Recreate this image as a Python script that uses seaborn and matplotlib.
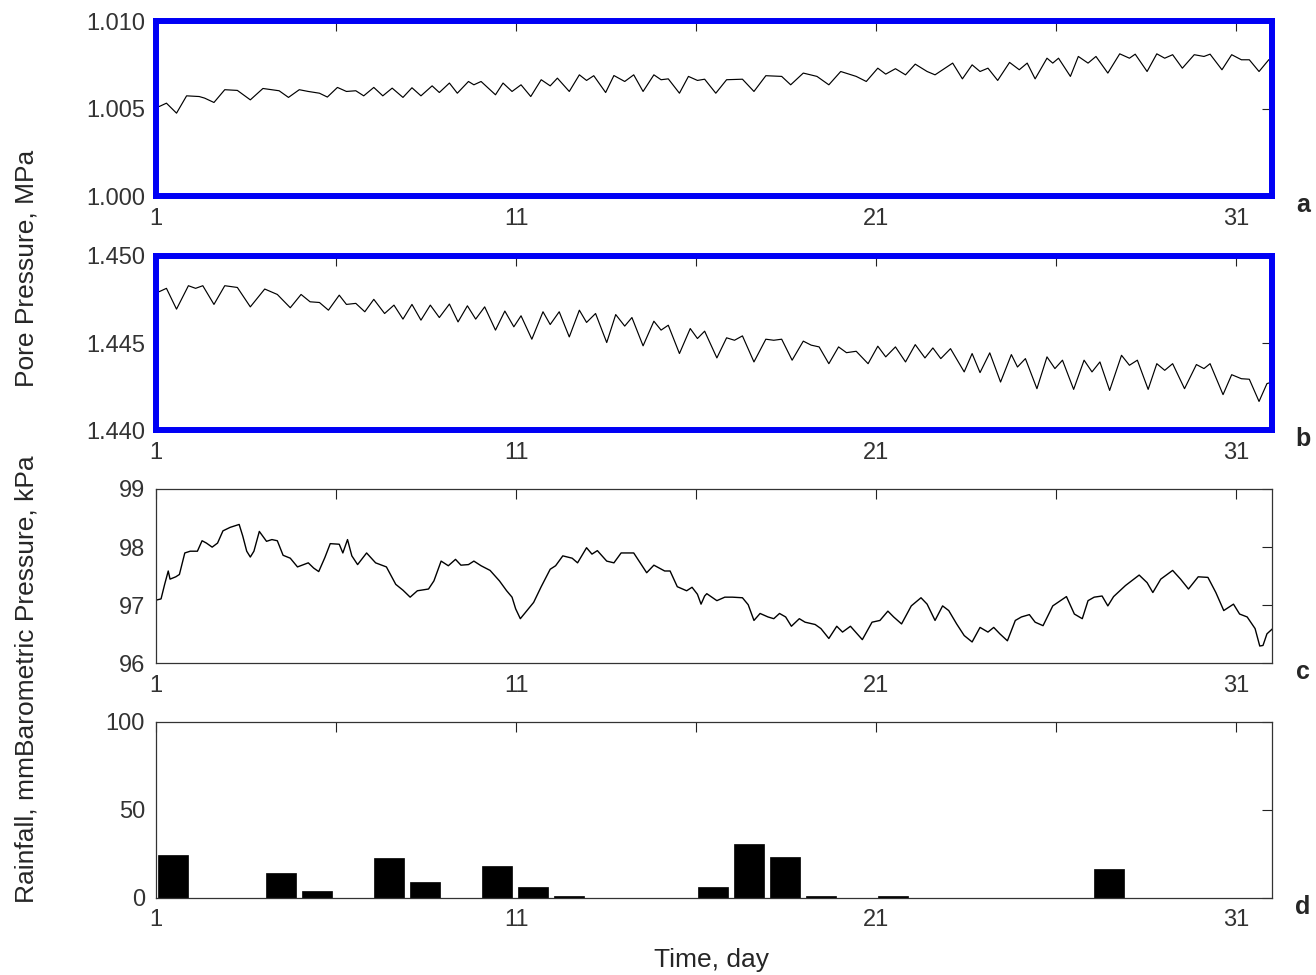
# Pore pressure (two gauges), barometric pressure and daily rainfall over one month
import numpy as np
import seaborn as sns
import matplotlib.pyplot as plt

sns.set_style("white")
plt.rcParams['font.family'] = ['Liberation Sans', 'DejaVu Sans']

# ---- data --------------------------------------------------------------
# a: pore pressure, gauge 1 (MPa)
a_day = [1.09, 1.29, 1.57, 1.85, 2.20, 2.35, 2.61, 2.91, 3.26, 3.62, 3.97, 4.42,
         4.68, 4.98, 5.23, 5.54, 5.76, 6.04, 6.29, 6.55, 6.77, 7.05, 7.30, 7.56,
         7.86, 8.11, 8.36, 8.67, 8.87, 9.15, 9.37, 9.68, 9.83, 10.03, 10.43, 10.64,
         10.89, 11.14, 11.41, 11.70, 11.95, 12.15, 12.48, 12.76, 12.96, 13.16, 13.49,
         13.72, 14.02, 14.27, 14.53, 14.83, 15.03, 15.23, 15.54, 15.79, 16.04, 16.24,
         16.55, 16.85, 17.29, 17.61, 17.94, 18.38, 18.63, 18.98, 19.36, 19.69, 20.02,
         20.45, 20.73, 21.05, 21.27, 21.54, 21.82, 22.09, 22.42, 22.64, 23.13, 23.40,
         23.67, 23.89, 24.11, 24.38, 24.71, 24.98, 25.20, 25.42, 25.75, 25.91, 26.07,
         26.40, 26.62, 26.89, 27.11, 27.44, 27.77, 28.04, 28.20, 28.53, 28.80, 29.02,
         29.24, 29.51, 29.84, 30.11, 30.28, 30.61, 30.88, 31.15, 31.37, 31.64, 31.91,
         32.00]
a_val = [1.00514, 1.00533, 1.00476, 1.00575, 1.00571, 1.00562, 1.00537, 1.00610,
         1.00606, 1.00552, 1.00617, 1.00604, 1.00566, 1.00610, 1.00600, 1.00590,
         1.00568, 1.00623, 1.00600, 1.00604, 1.00575, 1.00623, 1.00575, 1.00619,
         1.00566, 1.00621, 1.00575, 1.00632, 1.00594, 1.00648, 1.00590, 1.00657,
         1.00638, 1.00657, 1.00581, 1.00648, 1.00600, 1.00638, 1.00571, 1.00667,
         1.00632, 1.00676, 1.00600, 1.00695, 1.00663, 1.00690, 1.00594, 1.00691,
         1.00657, 1.00695, 1.00600, 1.00695, 1.00667, 1.00672, 1.00590, 1.00686,
         1.00663, 1.00670, 1.00590, 1.00667, 1.00670, 1.00600, 1.00690, 1.00686,
         1.00638, 1.00705, 1.00686, 1.00638, 1.00714, 1.00686, 1.00657, 1.00733,
         1.00699, 1.00730, 1.00695, 1.00756, 1.00714, 1.00695, 1.00762, 1.00672,
         1.00752, 1.00714, 1.00733, 1.00663, 1.00766, 1.00724, 1.00762, 1.00672,
         1.00790, 1.00762, 1.00790, 1.00686, 1.00800, 1.00762, 1.00800, 1.00705,
         1.00815, 1.00790, 1.00813, 1.00714, 1.00815, 1.00790, 1.00810, 1.00733,
         1.00810, 1.00800, 1.00813, 1.00724, 1.00810, 1.00781, 1.00781, 1.00714,
         1.00781, 1.00790]

# b: pore pressure, gauge 2 (MPa)
b_day = [1.09, 1.29, 1.57, 1.90, 2.10, 2.30, 2.61, 2.91, 3.26, 3.62, 4.02, 4.37,
         4.73, 5.03, 5.28, 5.54, 5.79, 6.09, 6.29, 6.55, 6.80, 7.05, 7.35, 7.61,
         7.86, 8.11, 8.36, 8.62, 8.87, 9.15, 9.39, 9.65, 9.88, 10.13, 10.43, 10.69,
         10.94, 11.14, 11.44, 11.75, 11.95, 12.20, 12.48, 12.76, 12.96, 13.21, 13.52,
         13.77, 14.02, 14.22, 14.53, 14.83, 15.03, 15.23, 15.54, 15.84, 16.04, 16.24,
         16.58, 16.85, 17.07, 17.29, 17.61, 17.94, 18.16, 18.38, 18.67, 18.98, 19.20,
         19.42, 19.69, 19.96, 20.18, 20.45, 20.78, 21.05, 21.27, 21.54, 21.82, 22.09,
         22.36, 22.58, 22.80, 23.07, 23.45, 23.67, 23.89, 24.16, 24.46, 24.76, 24.93,
         25.15, 25.47, 25.75, 25.97, 26.18, 26.49, 26.78, 27.00, 27.22, 27.49, 27.82,
         28.04, 28.26, 28.56, 28.80, 29.02, 29.24, 29.57, 29.90, 30.11, 30.28, 30.64,
         30.88, 31.15, 31.37, 31.64, 31.86, 32.00]
b_val = [1.44794, 1.44813, 1.44694, 1.44828, 1.44813, 1.44828, 1.44721, 1.44828,
         1.44818, 1.44707, 1.44809, 1.44778, 1.44702, 1.44778, 1.44736, 1.44732,
         1.44688, 1.44774, 1.44721, 1.44727, 1.44679, 1.44750, 1.44669, 1.44717,
         1.44637, 1.44721, 1.44631, 1.44717, 1.44646, 1.44723, 1.44621, 1.44713,
         1.44637, 1.44707, 1.44574, 1.44683, 1.44593, 1.44656, 1.44522, 1.44679,
         1.44606, 1.44679, 1.44535, 1.44688, 1.44618, 1.44669, 1.44503, 1.44663,
         1.44597, 1.44646, 1.44484, 1.44625, 1.44574, 1.44602, 1.44440, 1.44583,
         1.44526, 1.44568, 1.44415, 1.44530, 1.44516, 1.44541, 1.44392, 1.44522,
         1.44516, 1.44522, 1.44402, 1.44511, 1.44488, 1.44478, 1.44382, 1.44478,
         1.44445, 1.44453, 1.44382, 1.44482, 1.44421, 1.44478, 1.44392, 1.44491,
         1.44415, 1.44472, 1.44411, 1.44468, 1.44335, 1.44440, 1.44331, 1.44444,
         1.44277, 1.44434, 1.44363, 1.44411, 1.44239, 1.44421, 1.44354, 1.44402,
         1.44235, 1.44402, 1.44335, 1.44392, 1.44229, 1.44430, 1.44373, 1.44402,
         1.44235, 1.44382, 1.44344, 1.44382, 1.44239, 1.44377, 1.44354, 1.44382,
         1.44205, 1.44319, 1.44296, 1.44293, 1.44166, 1.44268, 1.44277]

# c: barometric pressure (kPa)
c_day = [1.01, 1.14, 1.24, 1.34, 1.39, 1.55, 1.65, 1.80, 1.95, 2.15, 2.28, 2.40,
         2.56, 2.71, 2.86, 3.06, 3.31, 3.41, 3.52, 3.62, 3.72, 3.87, 4.07, 4.22,
         4.37, 4.53, 4.73, 4.93, 5.23, 5.38, 5.52, 5.69, 5.84, 6.09, 6.19, 6.32,
         6.44, 6.60, 6.85, 7.10, 7.40, 7.66, 7.86, 8.06, 8.26, 8.57, 8.72, 8.92,
         9.12, 9.32, 9.47, 9.68, 9.83, 10.03, 10.28, 10.54, 10.74, 10.89, 10.99,
         11.12, 11.29, 11.49, 11.70, 11.95, 12.10, 12.30, 12.56, 12.71, 12.96, 13.11,
         13.26, 13.52, 13.72, 13.92, 14.27, 14.63, 14.83, 15.13, 15.28, 15.48, 15.74,
         15.89, 16.04, 16.14, 16.24, 16.30, 16.58, 16.80, 17.01, 17.29, 17.45, 17.61,
         17.78, 18.00, 18.16, 18.32, 18.49, 18.65, 18.87, 19.03, 19.31, 19.47, 19.69,
         19.91, 20.07, 20.29, 20.62, 20.89, 21.11, 21.33, 21.49, 21.71, 21.98, 22.25,
         22.42, 22.64, 22.85, 23.02, 23.24, 23.45, 23.67, 23.89, 24.11, 24.27, 24.44,
         24.65, 24.87, 25.04, 25.26, 25.42, 25.64, 25.91, 26.29, 26.51, 26.73, 26.89,
         27.06, 27.28, 27.44, 27.60, 27.93, 28.31, 28.53, 28.69, 28.91, 29.24, 29.46,
         29.68, 29.95, 30.22, 30.44, 30.66, 30.93, 31.10, 31.31, 31.53, 31.66, 31.75,
         31.86, 32.02]
c_val = [97.09, 97.11, 97.36, 97.59, 97.45, 97.49, 97.53, 97.90, 97.93, 97.93, 98.11,
         98.07, 98.00, 98.07, 98.28, 98.34, 98.39, 98.19, 97.93, 97.83, 97.93, 98.27,
         98.10, 98.13, 98.11, 97.86, 97.81, 97.66, 97.73, 97.64, 97.58, 97.82, 98.06,
         98.05, 97.90, 98.13, 97.85, 97.70, 97.90, 97.73, 97.66, 97.36, 97.26, 97.14,
         97.25, 97.28, 97.42, 97.76, 97.68, 97.79, 97.69, 97.70, 97.76, 97.68, 97.60,
         97.42, 97.25, 97.14, 96.94, 96.77, 96.90, 97.05, 97.32, 97.62, 97.68, 97.85,
         97.81, 97.73, 97.99, 97.88, 97.94, 97.76, 97.73, 97.90, 97.90, 97.56, 97.69,
         97.59, 97.59, 97.32, 97.25, 97.31, 97.19, 97.02, 97.16, 97.20, 97.08, 97.14,
         97.14, 97.13, 97.01, 96.74, 96.86, 96.80, 96.77, 96.86, 96.80, 96.64, 96.77,
         96.71, 96.67, 96.60, 96.43, 96.64, 96.54, 96.64, 96.41, 96.71, 96.74, 96.90,
         96.80, 96.68, 96.99, 97.13, 97.02, 96.74, 96.99, 96.91, 96.68, 96.48, 96.37,
         96.62, 96.54, 96.62, 96.51, 96.39, 96.74, 96.80, 96.84, 96.71, 96.65, 96.99,
         97.15, 96.85, 96.77, 97.08, 97.14, 97.16, 96.99, 97.15, 97.34, 97.52, 97.39,
         97.22, 97.45, 97.60, 97.45, 97.28, 97.49, 97.48, 97.22, 96.91, 97.02, 96.85,
         96.80, 96.60, 96.30, 96.31, 96.51, 96.60]

# d: daily rainfall (mm)
rain_day = [1, 4, 5, 7, 8, 10, 11, 12, 16, 17, 18, 19, 21, 27]
rain_mm = [24.6, 14.4, 4.2, 22.5, 9.3, 18.4, 6.4, 1.3, 6.4, 30.5, 23.5, 1.3, 1.3, 16.7]

day_ticks = [1, 6, 11, 16, 21, 26, 31]
day_labels = ['1', '', '11', '', '21', '', '31']

# ---- figure ------------------------------------------------------------
fig = plt.figure(figsize=(13.16, 9.75), dpi=100)
L, W = 156 / 1316, 1116 / 1316
ax_a = fig.add_axes([L, 0.7985, W, 0.1795])
ax_b = fig.add_axes([L, 0.5585, W, 0.1793])
ax_c = fig.add_axes([L, 0.3195, W, 0.1790])
ax_d = fig.add_axes([L, 0.0790, W, 0.1805])

line_kw = dict(color='black', sort=False, estimator=None,
               solid_joinstyle='round', solid_capstyle='round')
sns.lineplot(x=a_day, y=a_val, ax=ax_a, linewidth=0.85, **line_kw)
sns.lineplot(x=b_day, y=b_val, ax=ax_b, linewidth=0.85, **line_kw)
sns.lineplot(x=c_day, y=c_val, ax=ax_c, linewidth=1.0, **line_kw)

rain_x = np.array(rain_day) + 0.47
sns.barplot(x=rain_x, y=rain_mm, ax=ax_d, native_scale=True, width=0.82,
            color='black', saturation=1, edgecolor='black', linewidth=0.5,
            errorbar=None)

ylims = {ax_a: (1.000, 1.010), ax_b: (1.440, 1.450), ax_c: (96, 99), ax_d: (0, 100)}
yticks = {ax_a: [1.000, 1.005, 1.010], ax_b: [1.440, 1.445, 1.450],
          ax_c: [96, 97, 98, 99], ax_d: [0, 50, 100]}
ylabs = {ax_a: ['1.000', '1.005', '1.010'], ax_b: ['1.440', '1.445', '1.450'],
         ax_c: ['96', '97', '98', '99'], ax_d: ['0', '50', '100']}

for ax in (ax_a, ax_b, ax_c, ax_d):
    ax.set_xlim(1, 32)
    ax.set_ylim(*ylims[ax])
    ax.set_xticks(day_ticks)
    ax.set_xticklabels(day_labels)
    ax.set_yticks(yticks[ax])
    ax.set_yticklabels(ylabs[ax])
    ax.set_xlabel('')
    ax.set_ylabel('')
    ax.tick_params(direction='in', top=True, right=True, length=7.5, width=0.8,
                   pad=8, labelsize=17, labelcolor='#333333', color='#222222')
    ax.grid(False)

for ax in (ax_a, ax_b):
    for sp in ax.spines.values():
        sp.set_color('#0000f5')
        sp.set_linewidth(4.3)
for ax in (ax_c, ax_d):
    for sp in ax.spines.values():
        sp.set_color('#333333')
        sp.set_linewidth(0.9)

# panel letters
for letter, yy in zip('abcd', [0.7897, 0.5497, 0.3108, 0.0697]):
    fig.text(0.990, yy, letter, fontsize=18, fontweight='bold', ha='center', va='center')

fig.text(0.0198, 0.7251, 'Pore Pressure, MPa', rotation=90, fontsize=19,
         ha='center', va='center')
fig.text(0.0198, 0.3036, 'Rainfall, mmBarometric Pressure, kPa', rotation=90,
         fontsize=19, ha='center', va='center')
fig.text(0.541, 0.0154, 'Time, day', fontsize=19, ha='center', va='center')

plt.savefig('out.png', dpi=100)
